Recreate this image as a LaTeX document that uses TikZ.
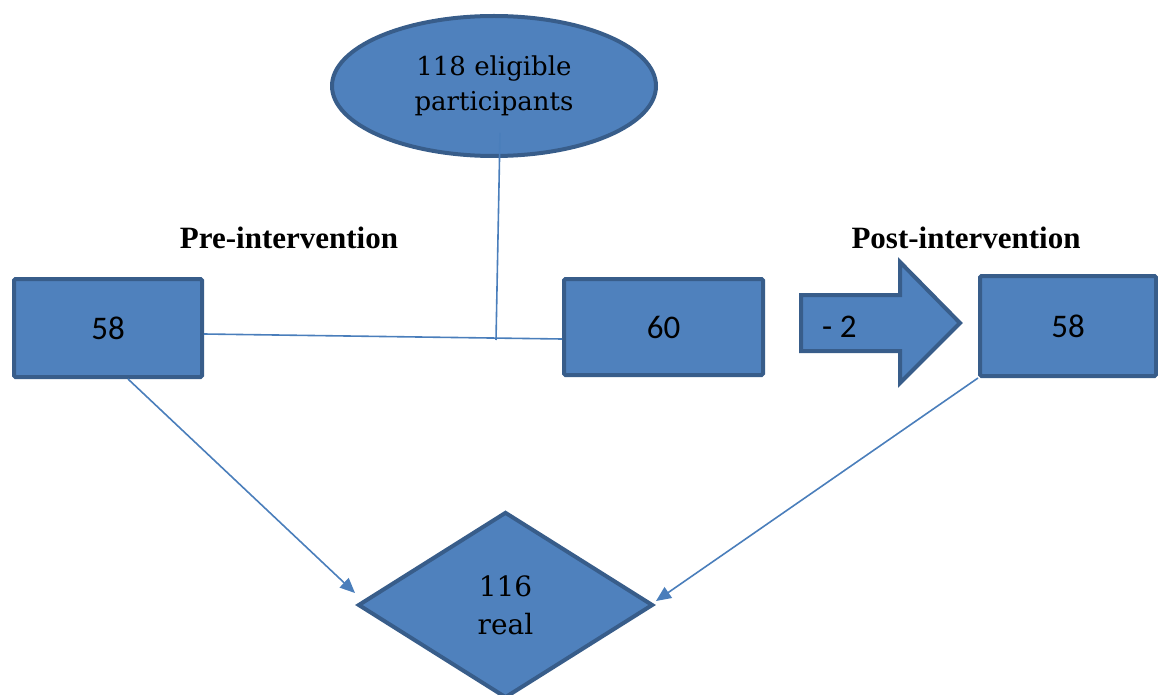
\documentclass[tikz,border=0pt]{standalone}
\usepackage{fontspec}
\setmainfont{Carlito}
\newfontfamily\cambriaish{DejaVu Serif}
\newfontfamily\timesish{Liberation Serif}
\usetikzlibrary{shapes.geometric,arrows.meta}
\definecolor{fillc}{HTML}{4F81BD}
\definecolor{bordc}{HTML}{385D8A}
\definecolor{linec}{HTML}{4A7EBB}
\tikzset{
  shapebox/.style={draw=bordc, fill=fillc, line width=4pt, inner sep=0pt,
    rounded corners=1.5pt, font=\fontsize{33}{40}\selectfont},
  ovalshape/.style={ellipse, draw=bordc, fill=fillc, line width=4pt, inner sep=0pt,
    align=center, font=\cambriaish\fontsize{26}{35}\selectfont},
  diamshape/.style={diamond, draw=bordc, fill=fillc, line width=4pt, inner sep=0pt,
    align=center, font=\cambriaish\fontsize{28}{38}\selectfont},
  conn/.style={draw=linec, line width=1.6pt},
  connarrow/.style={conn, -{Triangle[length=15pt,width=13pt]}},
  phaselabel/.style={font=\timesish\bfseries\fontsize{31}{36}\selectfont},
}
\begin{document}
\begin{tikzpicture}[x=1pt,y=-1pt]
\useasboundingbox (0,0) rectangle (1158,695);
\clip (0,0) rectangle (1158,695);
% nodes
\node[ovalshape, minimum width=324pt, minimum height=140pt] (E) at (494,86) {118 eligible\\participants};
\node[shapebox, minimum width=188pt, minimum height=98pt] (L) at (108,328) {58};
\node[shapebox, minimum width=199pt, minimum height=96pt] (M) at (663.5,327) {60};
\node[shapebox, minimum width=176pt, minimum height=100pt] (R) at (1068,326) {58};
\node[diamshape, minimum width=295pt, minimum height=186pt] (D) at (505.5,605) {116\\real};
\node[phaselabel] (PRE) at (289,238) {Pre-intervention};
\node[phaselabel] (POST) at (966,238) {Post-intervention};
% block arrow
\draw[draw=bordc, fill=fillc, line width=4pt, line join=miter]
  (801,295) -- (900,295) -- (900,262) -- (960,323) -- (900,383) -- (900,351) -- (801,351) -- cycle;
\node[font=\fontsize{33}{40}\selectfont, anchor=west, inner sep=0pt] (A) at (822,327) {- 2};
% connectors
\coordinate (J) at (496,340);
\draw[conn] ([yshift=-6pt]L.east) -- ([yshift=-12pt]M.west);
\draw[conn] ([xshift=6pt,yshift=-47pt]E.center) -- (J);
\draw[connarrow] ([xshift=20pt]L.south) -- ([xshift=-1pt,yshift=12pt]D.west);
\draw[connarrow] (R.south west) -- ([xshift=1pt,yshift=4pt]D.east);
\end{tikzpicture}
\end{document}
